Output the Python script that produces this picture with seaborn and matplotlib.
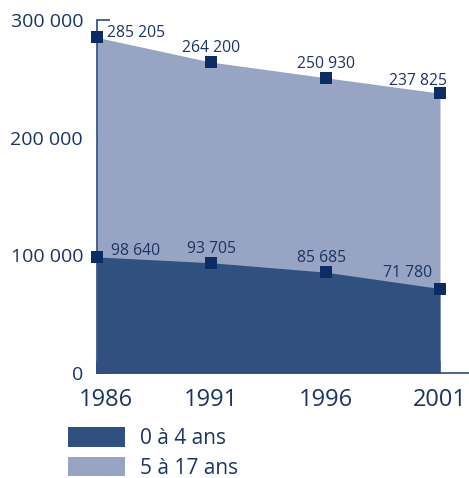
import matplotlib
matplotlib.use("Agg")
import matplotlib.pyplot as plt
import matplotlib.transforms as mtransforms
from matplotlib.patches import Patch
import seaborn as sns
import pandas as pd

# Population by age group, census years
years = [1986, 1991, 1996, 2001]
total_0_17 = [285205, 264200, 250930, 237825]
age_0_4 = [98640, 93705, 85685, 71780]
total_labels = ["285 205", "264 200", "250 930", "237 825"]
young_labels = ["98 640", "93 705", "85 685", "71 780"]
y_ticks = [0, 100000, 200000, 300000]
y_tick_labels = ["0", "100 000", "200 000", "300 000"]
legend_labels = ["0 à 4 ans", "5 à 17 ans"]

sns.set_theme(style="white")
plt.rcParams["font.family"] = ["Open Sans", "DejaVu Sans"]

NAVY = "#1B3563"
DARK = "#30517F"
LIGHT = "#97A4C3"
MARK = "#0B2D63"

df = pd.DataFrame({"year": years, "total": total_0_17, "young": age_0_4})

fig = plt.figure(figsize=(4.69, 4.78), dpi=100)
ax = fig.add_axes([97 / 469, 1 - 373 / 478, 1 - 97 / 469, (373 - 20) / 478])

ax.fill_between(df["year"], 0, df["total"], color=LIGHT, linewidth=0, zorder=1)
ax.fill_between(df["year"], 0, df["young"], color=DARK, linewidth=0, zorder=2)

long = pd.concat([
    pd.DataFrame({"year": years, "value": total_0_17}),
    pd.DataFrame({"year": years, "value": age_0_4}),
])
sns.scatterplot(data=long, x="year", y="value", marker="s", s=70,
                color=MARK, edgecolor=MARK, linewidth=0, ax=ax, zorder=5,
                clip_on=False, legend=False)

# value labels
total_offsets = [(10, 4, "left"), (0, 14, "center"), (0, 14, "center"), (-22, 12, "center")]
young_offsets = [(14, 6, "left"), (0, 14, "center"), (-4, 14, "center"), (-32, 16, "center")]
for x, v, t, (dx, dy, ha) in zip(years, total_0_17, total_labels, total_offsets):
    ax.annotate(t, (x, v), xytext=(dx * 0.72, dy * 0.72), textcoords="offset points",
                ha=ha, va="center", fontsize=11.3, color=NAVY, zorder=6)
for x, v, t, (dx, dy, ha) in zip(years, age_0_4, young_labels, young_offsets):
    ax.annotate(t, (x, v), xytext=(dx * 0.72, dy * 0.72), textcoords="offset points",
                ha=ha, va="center", fontsize=11.3, color=NAVY, zorder=6)

ax.set_xlim(1986, 1986 + 15 * (469 - 97) / (440 - 97))
ax.set_ylim(0, 300000)
ax.set_xticks(years)
ax.set_xticklabels([str(y) for y in years], fontsize=17, color=NAVY)
ax.set_yticks(y_ticks)
ax.set_yticklabels(y_tick_labels, fontsize=14, color=NAVY)
ax.set_xlabel("")
ax.set_ylabel("")

for side in ["top", "right"]:
    ax.spines[side].set_visible(False)
for side in ["left", "bottom"]:
    ax.spines[side].set_color("#2E4A7A")
    ax.spines[side].set_linewidth(1.2)

ax.tick_params(axis="both", direction="in", length=9, width=1.2, color="#2E4A7A",
               left=True, bottom=True)
ax.tick_params(axis="y", pad=10)
ax.tick_params(axis="x", pad=11)

# nudge the first year label to the right
first = ax.get_xticklabels()[0]
first.set_transform(first.get_transform() + mtransforms.ScaledTranslation(9 / 100, 0, fig.dpi_scale_trans))

handles = [Patch(facecolor=DARK, edgecolor="none"), Patch(facecolor=LIGHT, edgecolor="none")]
leg = fig.legend(handles, legend_labels, loc="upper left",
                 bbox_to_anchor=(60 / 469, 1 - 419 / 478), frameon=False,
                 fontsize=15, handlelength=2.7, handleheight=1.05,
                 handletextpad=0.75, labelspacing=0.38, borderaxespad=0)
for txt in leg.get_texts():
    txt.set_color(NAVY)

fig.savefig("out.png", dpi=100)
